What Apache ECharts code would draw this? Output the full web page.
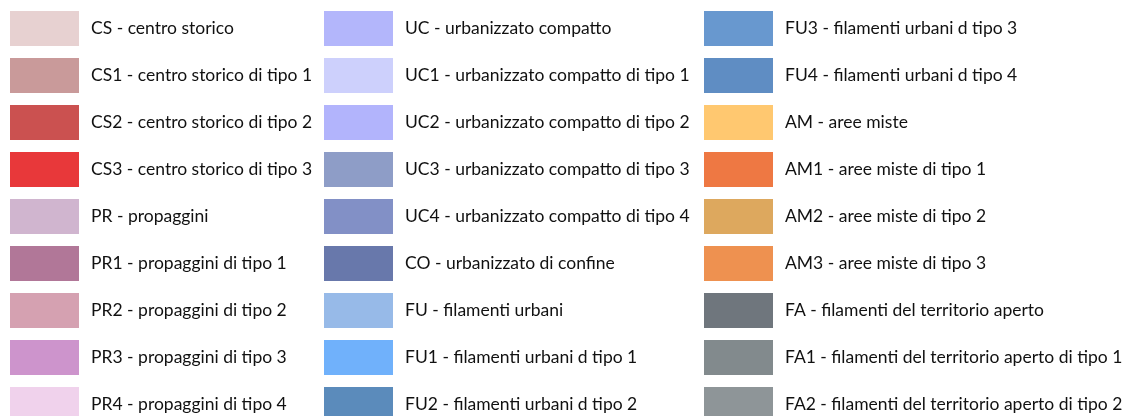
<!DOCTYPE html>
<html>
<head>
<meta charset="utf-8">
<script src="https://cdn.jsdelivr.net/npm/echarts@6/dist/echarts.min.js"></script>
<style>
html,body{margin:0;padding:0;background:#fff;}
#chart{width:1131px;height:416px;}
</style>
</head>
<body>
<div id="chart"></div>
<script>
const col1Names = [
  'CS - centro storico',
  'CS1 - centro storico di tipo 1',
  'CS2 - centro storico di tipo 2',
  'CS3 - centro storico di tipo 3',
  'PR - propaggini',
  'PR1 - propaggini di tipo 1',
  'PR2 - propaggini di tipo 2',
  'PR3 - propaggini di tipo 3',
  'PR4 - propaggini di tipo 4'
];
const col2Names = [
  'UC - urbanizzato compatto',
  'UC1 - urbanizzato compatto di tipo 1',
  'UC2 - urbanizzato compatto di tipo 2',
  'UC3 - urbanizzato compatto di tipo 3',
  'UC4 - urbanizzato compatto di tipo 4',
  'CO - urbanizzato di confine',
  'FU - filamenti urbani',
  'FU1 - filamenti urbani d tipo 1',
  'FU2 - filamenti urbani d tipo 2'
];
const col3Names = [
  'FU3 - filamenti urbani d tipo 3',
  'FU4 - filamenti urbani d tipo 4',
  'AM - aree miste',
  'AM1 - aree miste di tipo 1',
  'AM2 - aree miste di tipo 2',
  'AM3 - aree miste di tipo 3',
  'FA - filamenti del territorio aperto',
  'FA1 - filamenti del territorio aperto di tipo 1',
  'FA2 - filamenti del territorio aperto di tipo 2'
];
const col1Colors = ['#E7D1D1','#C99A9A','#CB5150','#E8383A','#D0B5CF','#B17798','#D5A1B1','#CD94CC','#F0D2EC'];
const col2Colors = ['#B3B6FB','#CDD0FC','#B2B4FC','#8E9DC7','#8290C6','#6878AB','#97BAE8','#70B1FB','#5B8BBB'];
const col3Colors = ['#6898CF','#5F8DC3','#FFC870','#EE7843','#DDA85E','#EE9150','#6F767D','#828A8D','#8E9598'];

const allNames = col1Names.concat(col2Names, col3Names);
const allColors = col1Colors.concat(col2Colors, col3Colors);

const chart = echarts.init(document.getElementById('chart'), null, {renderer: 'canvas'});

function legendFor(names, left) {
  return {
    type: 'plain',
    orient: 'vertical',
    left: left,
    top: 11,
    width: 420,
    height: 600,
    padding: 0,
    itemWidth: 69,
    itemHeight: 35,
    itemGap: 12,
    icon: 'rect',
    selectedMode: false,
    data: names,
    textStyle: {
      fontFamily: 'Lato, "Open Sans", sans-serif',
      fontSize: 17.5,
      color: '#111',
      padding: [4, 0, 0, 7]
    }
  };
}

chart.setOption({
  animation: false,
  backgroundColor: '#fff',
  grid: {left: 0, right: 0, top: 0, bottom: 0, show: false},
  xAxis: {type: 'category', show: false, data: []},
  yAxis: {type: 'value', show: false},
  legend: [
    legendFor(col1Names, 10),
    legendFor(col2Names, 324),
    legendFor(col3Names, 704)
  ],
  series: allNames.map((n, i) => ({
    name: n,
    type: 'bar',
    data: [],
    itemStyle: {color: allColors[i]}
  }))
});
</script>
</body>
</html>
